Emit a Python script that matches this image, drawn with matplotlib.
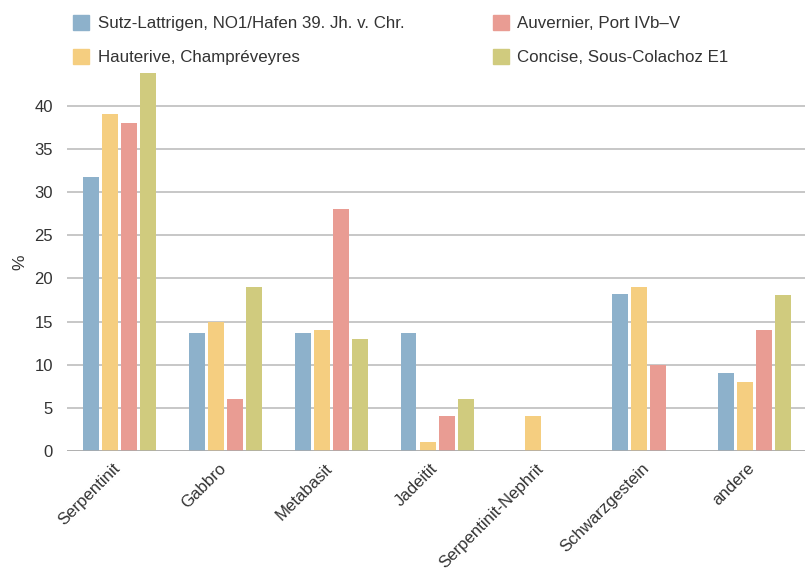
import matplotlib
matplotlib.use("Agg")
import matplotlib.pyplot as plt
import matplotlib.patches as mpatches
import matplotlib.transforms as mtrans
import numpy as np

plt.rcParams['font.family'] = ['Liberation Sans', 'DejaVu Sans']

categories = ["Serpentinit", "Gabbro", "Metabasit", "Jadeitit",
              "Serpentinit-Nephrit", "Schwarzgestein", "andere"]
series_names = ["Sutz-Lattrigen, NO1/Hafen 39. Jh. v. Chr.",
                "Hauterive, Champréveyres",
                "Auvernier, Port IVb–V",
                "Concise, Sous-Colachoz E1"]
sutz = [31.8, 13.7, 13.7, 13.7, 0, 18.2, 9]
hauterive = [39, 15, 14, 1, 4, 19, 8]
auvernier = [38, 6, 28, 4, 0, 10, 14]
concise = [44, 19, 13, 6, 0, 0, 18.1]
colors = ["#8DB1CB", "#F5CE80", "#E99C93", "#D0CB7E"]

fig = plt.figure(figsize=(8.05, 5.72), dpi=100)
ax = fig.add_axes([0.0832, 0.2115, 0.9168, 0.661])

x = np.arange(len(categories))
step = 0.18
width = 0.151
for i, vals in enumerate([sutz, hauterive, auvernier, concise]):
    ax.bar(x + (i - 1.5) * step, vals, width, color=colors[i], zorder=3)

ax.set_xlim(-0.5, 6.48)
ax.set_ylim(0, 43.8)
ax.set_yticks(np.arange(0, 41, 5))
ax.grid(axis='y', color='#BDBDBD', linewidth=1.2, zorder=0)
ax.axhline(0, color='#AAAAAA', linewidth=1.8, zorder=4)
for s in ax.spines.values():
    s.set_visible(False)
ax.tick_params(axis='both', length=0, colors='#333333')
ax.tick_params(axis='y', pad=10, labelsize=12)
ax.set_xticks(x)
ax.set_xticklabels(categories, rotation=45, ha='right', va='top',
                   rotation_mode='anchor', fontsize=12.1)
ax.tick_params(axis='x', pad=7)
# nudge the rotated labels a bit to the left
shift = mtrans.ScaledTranslation(-7 / 100, 0, fig.dpi_scale_trans)
for lab in ax.get_xticklabels():
    lab.set_transform(lab.get_transform() + shift)
ax.set_ylabel('%', fontsize=12.5, color='#333333', labelpad=5)

handles = [mpatches.Patch(color=c) for c in colors]
fig.legend(handles, series_names, ncol=2, loc='upper left',
           bbox_to_anchor=(0.072, 1.0), frameon=False, fontsize=12.2,
           handlelength=0.95, handleheight=0.95, handletextpad=0.5,
           columnspacing=5.2, labelspacing=1.05, labelcolor='#333333')

fig.savefig("out.png", dpi=100)
